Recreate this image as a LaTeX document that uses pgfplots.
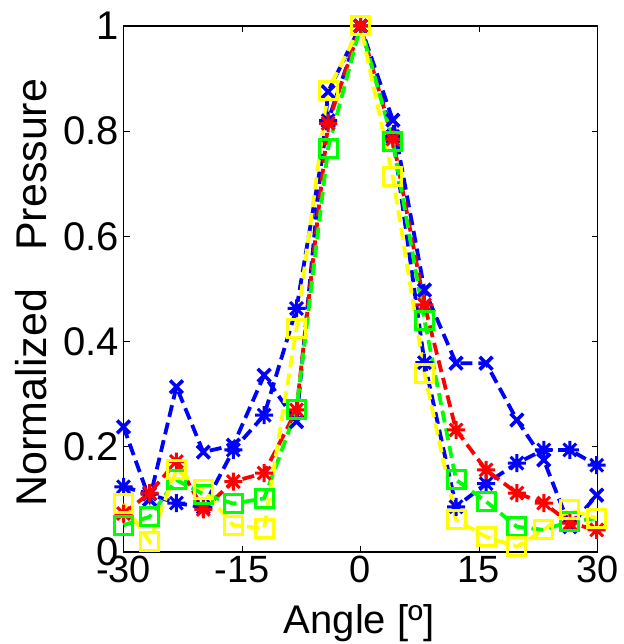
\documentclass[border=0pt]{standalone}
\usepackage{fontspec}
\setmainfont{Liberation Sans}
\usepackage{pgfplots}
\pgfplotsset{compat=1.18}
\pgfdeclareplotmark{ast8}{%
 \pgfpathmoveto{\pgfqpoint{-\pgfplotmarksize}{0pt}}\pgfpathlineto{\pgfqpoint{\pgfplotmarksize}{0pt}}%
 \pgfpathmoveto{\pgfqpoint{0pt}{-\pgfplotmarksize}}\pgfpathlineto{\pgfqpoint{0pt}{\pgfplotmarksize}}%
 \pgfpathmoveto{\pgfqpoint{-0.7071\pgfplotmarksize}{-0.7071\pgfplotmarksize}}\pgfpathlineto{\pgfqpoint{0.7071\pgfplotmarksize}{0.7071\pgfplotmarksize}}%
 \pgfpathmoveto{\pgfqpoint{-0.7071\pgfplotmarksize}{0.7071\pgfplotmarksize}}\pgfpathlineto{\pgfqpoint{0.7071\pgfplotmarksize}{-0.7071\pgfplotmarksize}}%
 \pgfusepathqstroke}
\definecolor{mblue}{RGB}{0,0,255}
\definecolor{mred}{RGB}{255,0,0}
\definecolor{mgreen}{RGB}{0,255,0}
\definecolor{myellow}{RGB}{255,255,0}
\begin{document}
\begin{tikzpicture}
\useasboundingbox (-123.5pt,-92pt) rectangle (499.5pt,552pt);
\begin{axis}[
  at={(0,0)}, anchor=south west,
  scale only axis, width=474pt, height=526pt,
  xmin=-30, xmax=30, ymin=0, ymax=1,
  xtick={-30,-15,0,15,30},
  ytick={0,0.2,0.4,0.6,0.8,1},
  yticklabels={0,0.2,0.4,0.6,0.8,1},
  /pgf/number format/assume math mode=true,
  xticklabel style={font=\fontsize{38}{42}\selectfont, anchor=base, yshift=-30pt},
  yticklabel style={font=\fontsize{40}{44}\selectfont, xshift=-1pt},
  major tick length=6pt,
  tick style={black, line width=0.8pt},
  axis line style={line width=1.2pt},
  clip=false,
  xlabel={Angle [º]},
  xlabel style={font=\fontsize{40}{44}\selectfont, at={(axis description cs:0.497,-0.154)}, anchor=base},
  ylabel={Normalized\hspace{38pt}Pressure},
  ylabel style={font=\fontsize{43}{46}\selectfont, at={(axis description cs:-0.195,0.4933)}, anchor=center, rotate=0},
  every axis plot/.append style={line width=3.8pt, dash pattern=on 12pt off 6pt, mark options={solid, line width=3pt}},
]
\addplot[mblue, mark=x, mark size=9pt, mark options={solid, line width=3.6pt}] coordinates {
(-30,0.238) (-26.7,0.10) (-23.3,0.314) (-19.9,0.19) (-16.1,0.203) (-12.2,0.336) (-8.1,0.248) (-4.1,0.875) (0,1) (4.1,0.821) (8.1,0.498) (12.1,0.359) (15.9,0.359) (19.8,0.251) (23.2,0.175) (26.5,0.048) (29.9,0.108)};
\addplot[mblue, mark=ast8, mark size=9pt] coordinates {
(-30,0.124) (-26.7,0.11) (-23.3,0.093) (-19.9,0.085) (-16.1,0.194) (-12.2,0.26) (-8.1,0.463) (-4.1,0.82) (0,1) (4.1,0.79) (8.1,0.36) (12.1,0.086) (15.9,0.13) (19.8,0.169) (23.2,0.194) (26.5,0.194) (29.9,0.165)};
\addplot[mred, mark=ast8, mark size=9pt] coordinates {
(-30,0.073) (-26.7,0.112) (-23.3,0.172) (-19.9,0.081) (-16.1,0.134) (-12.2,0.15) (-8.1,0.27) (-4.1,0.815) (0,1) (4.1,0.785) (8.1,0.47) (12.1,0.232) (15.9,0.156) (19.8,0.112) (23.2,0.093) (26.5,0.055) (29.9,0.042)};
\addplot[mgreen, mark=square, mark size=9pt] coordinates {
(-30,0.051) (-26.7,0.067) (-23.3,0.137) (-19.9,0.11) (-16.1,0.092) (-12.2,0.102) (-8.1,0.27) (-4.1,0.768) (0,1) (4.1,0.78) (8.1,0.44) (12.1,0.137) (15.9,0.096) (19.8,0.048) (23.2,0.042) (26.5,0.058) (29.9,0.064)};
\addplot[myellow, mark=square, mark size=9pt] coordinates {
(-30,0.092) (-26.7,0.02) (-23.3,0.156) (-19.9,0.118) (-16.1,0.051) (-12.2,0.045) (-8.1,0.425) (-4.1,0.878) (0,1) (4.1,0.713) (8.1,0.34) (12.1,0.061) (15.9,0.029) (19.8,0.01) (23.2,0.042) (26.5,0.08) (29.9,0.064)};
\end{axis}
\end{tikzpicture}
\end{document}
